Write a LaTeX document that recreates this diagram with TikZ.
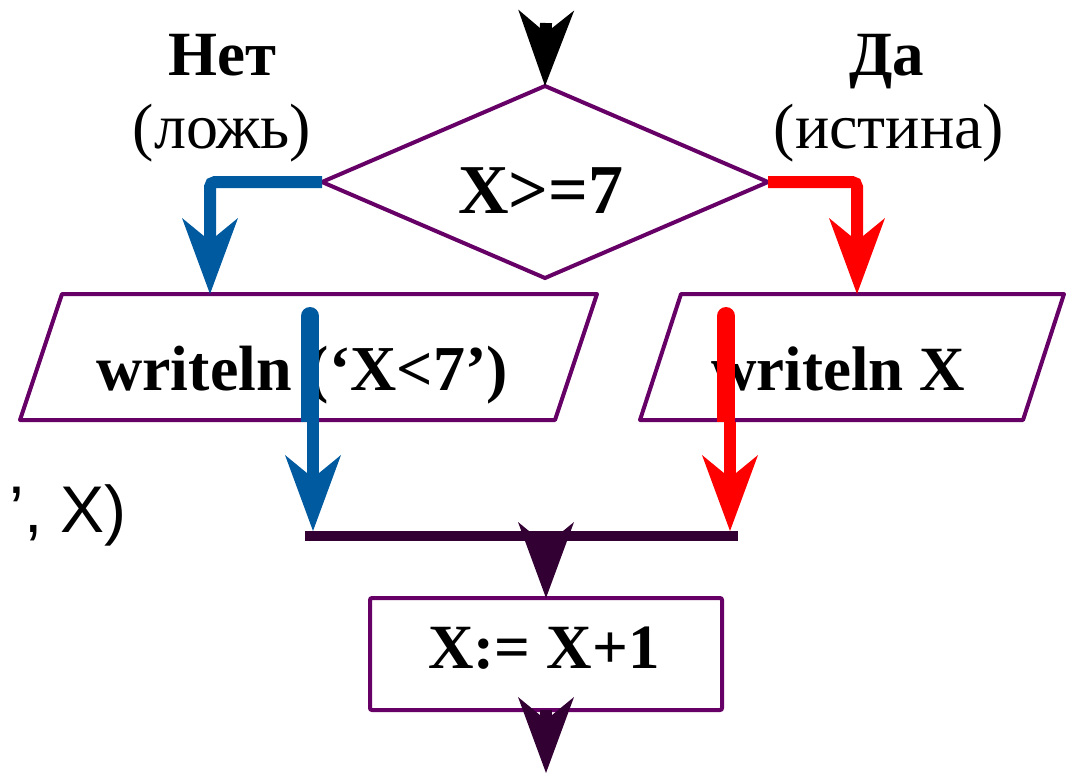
\documentclass[tikz,border=0pt]{standalone}
\usepackage{fontspec}
\setmainfont{Liberation Serif}
\newfontfamily\arialfont{Liberation Sans}
\usetikzlibrary{arrows.meta,shapes.geometric}
\definecolor{flowpurple}{RGB}{102,0,102}
\definecolor{flowdark}{RGB}{51,0,51}
\definecolor{flowblue}{RGB}{0,90,160}
\definecolor{flowred}{RGB}{255,0,0}
\begin{document}
\begin{tikzpicture}[x=1pt,y=-1pt,
  outline/.style={draw=flowpurple, line width=4pt, inner sep=0pt, outer sep=0pt},
  paraline/.style={draw=flowpurple, line width=4pt, line join=round},
  arrowtip/.style={-{Stealth[length=76pt,width=56pt,inset=23pt,line width=0pt]}},
  conn/.style={arrowtip, line width=12pt},
  bigtext/.style={font=\fontsize{63}{70}\selectfont\bfseries, anchor=base, inner sep=0pt},
  lbltext/.style={font=\fontsize{64}{70}\selectfont, anchor=base, inner sep=0pt}]
\useasboundingbox (0,0) rectangle (1067,772);

% shapes
\node[outline, diamond, minimum width=446pt, minimum height=192pt] (cond) at (545,182) {};
\coordinate (Ltl) at (62,294); \coordinate (Ltr) at (597,294);
\coordinate (Lbr) at (555,420); \coordinate (Lbl) at (20,420);
\draw[paraline] (Ltl) -- (Ltr) -- (Lbr) -- (Lbl) -- cycle;
\coordinate (Rtl) at (681,294); \coordinate (Rtr) at (1064,294);
\coordinate (Rbr) at (1023,420); \coordinate (Rbl) at (640,420);
\draw[paraline] (Rtl) -- (Rtr) -- (Rbr) -- (Rbl) -- cycle;
\node[outline, rectangle, rounded corners=2pt, minimum width=352pt, minimum height=112pt] (assign) at (546,654) {};

% texts
\node[bigtext] (no) at (222,75) {Нет};
\node[lbltext] (nof) at (222,148) {(ложь)};
\node[bigtext] (yes) at (887,75) {Да};
\node[lbltext] (yesf) at (889,148) {(истина)};
\node[bigtext, font=\fontsize{70}{80}\selectfont\bfseries] (condt) at (541,213) {X>=7};
\node[bigtext, font=\fontsize{64}{70}\selectfont\bfseries] (Ltext) at (302,390) {writeln (‘X<7’)};
\node[bigtext] (Rtext) at (838,390) {writeln X};
\node[bigtext] (atext) at (544,668) {X:= X+1};
\node[font=\arialfont\fontsize{66}{76}\selectfont, anchor=base east, inner sep=0pt] (frag) at (127,532) {’, X)};

% coordinates
\coordinate (start) at (546,23);
\coordinate (Lin) at (210,294);
\coordinate (Rin) at (857,294);
\coordinate (Lout) at (313,422);
\coordinate (Rout) at (730,422);
\coordinate (Ltip) at (313,531);
\coordinate (Rtip) at (730,531);
\coordinate (mL) at (305,536);
\coordinate (mR) at (738,536);
\coordinate (mC) at (546,536);
\coordinate (finish) at (546,773);

% thick stubs inside the parallelograms
\draw[flowblue, line width=18pt, line cap=round] (310,316) -- (310,410);
\draw[flowblue, line width=18pt] (310,330) -- (310,422);
\draw[flowred, line width=18pt, line cap=round] (726,316) -- (726,410);
\draw[flowred, line width=18pt] (726,330) -- (726,422);

% connectors
\draw[conn, black] (start) -- (cond.north);
\draw[conn, flowblue, rounded corners=5pt] (cond.west) -| (Lin);
\draw[conn, flowred, rounded corners=5pt] (cond.east) -| (Rin);
\draw[conn, flowblue] (Lout) -- (Ltip);
\draw[conn, flowred] (Rout) -- (Rtip);
\draw[flowdark, line width=10pt] (mL) -- (mR);
\draw[conn, flowdark] (mC) -- (assign.north);
\draw[conn, flowdark] (assign.south) -- (finish);
\end{tikzpicture}
\end{document}
